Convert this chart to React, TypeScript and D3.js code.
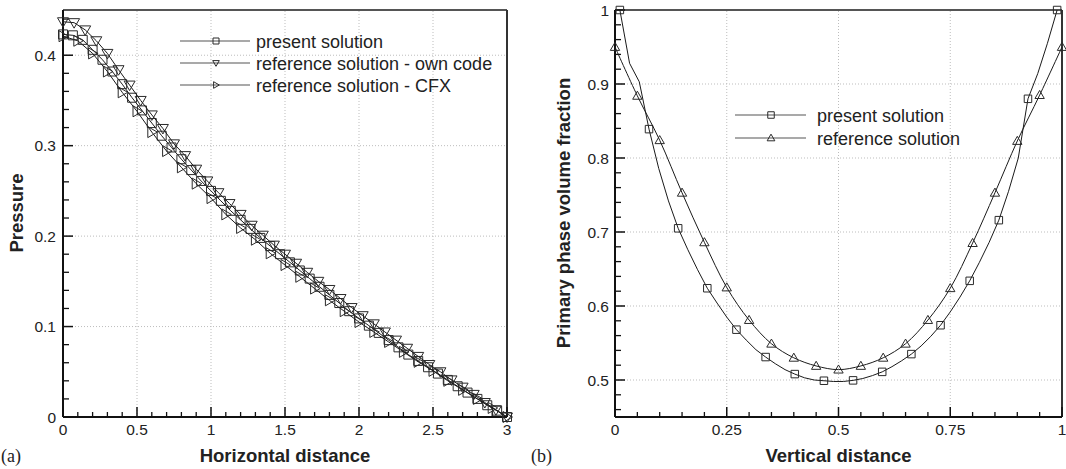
import React from "react";
import * as d3 from "d3";

// ---------- Panel (a) data ----------
const presentAX = [0, 0.0667, 0.1333, 0.2, 0.2667, 0.3333, 0.4, 0.4667, 0.5333, 0.6, 0.6667, 0.7333, 0.8, 0.8667, 0.9333, 1.0,
  1.0667, 1.1333, 1.2, 1.2667, 1.3333, 1.4, 1.4667, 1.5333, 1.6, 1.6667, 1.7333, 1.8, 1.8667, 1.9333, 2.0,
  2.0667, 2.1333, 2.2, 2.2667, 2.3333, 2.4, 2.4667, 2.5333, 2.6, 2.6667, 2.7333, 2.8, 2.8667, 2.9333, 3.0];
const presentAY = [0.423, 0.422, 0.417, 0.406, 0.395, 0.382, 0.368, 0.353, 0.339, 0.325, 0.311, 0.298, 0.285, 0.273, 0.261, 0.25,
  0.239, 0.228, 0.218, 0.208, 0.198, 0.189, 0.18, 0.171, 0.162, 0.153, 0.144, 0.135, 0.126, 0.117, 0.109,
  0.101, 0.093, 0.085, 0.077, 0.069, 0.062, 0.055, 0.048, 0.041, 0.034, 0.027, 0.02, 0.013, 0.007, 0.0];

const ownCodeX = [0, 0.075, 0.15, 0.225, 0.3, 0.375, 0.45, 0.525, 0.6, 0.675, 0.75, 0.825, 0.9, 0.975, 1.05, 1.125, 1.2, 1.275, 1.35, 1.425,
  1.5, 1.575, 1.65, 1.725, 1.8, 1.875, 1.95, 2.025, 2.1, 2.175, 2.25, 2.325, 2.4, 2.475, 2.55, 2.625, 2.7, 2.775, 2.85, 2.925, 3.0];
const ownCodeY = [0.437, 0.436, 0.428, 0.416, 0.402, 0.384, 0.367, 0.35, 0.334, 0.319, 0.302, 0.289, 0.274, 0.261, 0.248, 0.236, 0.224, 0.212, 0.201, 0.19,
  0.18, 0.17, 0.16, 0.15, 0.141, 0.131, 0.121, 0.112, 0.103, 0.094, 0.085, 0.076, 0.067, 0.058, 0.05, 0.041, 0.033, 0.025, 0.016, 0.008, 0.0];

const cfxX = [0, 0.1, 0.2, 0.3, 0.4, 0.5, 0.6, 0.7, 0.8, 0.9, 1.0, 1.1, 1.2, 1.3, 1.4, 1.5, 1.6, 1.7, 1.8, 1.9, 2.0,
  2.1, 2.2, 2.3, 2.4, 2.5, 2.6, 2.7, 2.8, 2.9, 3.0];
const cfxY = [0.421, 0.416, 0.402, 0.382, 0.359, 0.338, 0.315, 0.294, 0.276, 0.258, 0.242, 0.224, 0.209, 0.196, 0.181, 0.168, 0.155, 0.142, 0.129, 0.117, 0.105,
  0.094, 0.083, 0.072, 0.061, 0.051, 0.04, 0.03, 0.02, 0.01, 0.0];

const aXTicks = [0, 0.5, 1, 1.5, 2, 2.5, 3];
const aXTickLabels = ["0", "0.5", "1", "1.5", "2", "2.5", "3"];
const aYTicks = [0, 0.1, 0.2, 0.3, 0.4];
const aYTickLabels = ["0", "0.1", "0.2", "0.3", "0.4"];
const aLegend = ["present solution", "reference solution - own code", "reference solution - CFX"];

// ---------- Panel (b) data ----------
const presentBX = [0.0109, 0.0326, 0.0543, 0.0761, 0.0978, 0.1196, 0.1413, 0.163, 0.1848, 0.2065, 0.2283, 0.25, 0.2717, 0.2935, 0.3152, 0.337,
  0.3587, 0.3804, 0.4022, 0.4239, 0.4457, 0.4674, 0.4891, 0.5109, 0.5326, 0.5543, 0.5761, 0.5978, 0.6196, 0.6413, 0.663,
  0.6848, 0.7065, 0.7283, 0.75, 0.7717, 0.7935, 0.8152, 0.837, 0.8587, 0.8804, 0.9022, 0.9239, 0.9457, 0.9674, 0.9891];
const presentBY = [1.0, 0.928, 0.903, 0.839, 0.786, 0.742, 0.705, 0.676, 0.649, 0.624, 0.604, 0.585, 0.568, 0.554, 0.541, 0.531,
  0.522, 0.514, 0.508, 0.503, 0.5, 0.499, 0.498, 0.498, 0.4995, 0.502, 0.506, 0.511, 0.518, 0.526, 0.535,
  0.546, 0.559, 0.574, 0.592, 0.612, 0.634, 0.659, 0.686, 0.716, 0.755, 0.8, 0.88, 0.914, 0.955, 1.0];
const presentBMarkerEvery = 3;

const referenceBX = [0, 0.05, 0.1, 0.15, 0.2, 0.25, 0.3, 0.35, 0.4, 0.45, 0.5, 0.55, 0.6, 0.65, 0.7, 0.75, 0.8, 0.85, 0.9, 0.95, 1.0];
const referenceBY = [0.95, 0.884, 0.824, 0.753, 0.686, 0.625, 0.581, 0.549, 0.53, 0.519, 0.514, 0.519, 0.53, 0.549, 0.581, 0.624, 0.685, 0.753, 0.823, 0.885, 0.95];

const bXTicks = [0, 0.25, 0.5, 0.75, 1];
const bXTickLabels = ["0", "0.25", "0.5", "0.75", "1"];
const bYTicks = [0.5, 0.6, 0.7, 0.8, 0.9, 1];
const bYTickLabels = ["0.5", "0.6", "0.7", "0.8", "0.9", "1"];
const bLegend = ["present solution", "reference solution"];

const SANS = "'Liberation Sans', Arial, Helvetica, sans-serif";
const SERIF = "'Liberation Serif', 'Times New Roman', serif";
const LINE = "#1a1a1a";
const MARK = "#2a2a2a";

type Shape = "square" | "down" | "right" | "up";

function Marker({ shape, cx, cy, s }: { shape: Shape; cx: number; cy: number; s: number }) {
  const h = s / 2;
  let d = "";
  if (shape === "square") d = `M${cx - h},${cy - h}h${s}v${s}h${-s}Z`;
  else if (shape === "down") d = `M${cx - h * 1.1},${cy - h * 0.8}L${cx + h * 1.1},${cy - h * 0.8}L${cx},${cy + h * 1.1}Z`;
  else if (shape === "up") d = `M${cx - h * 1.1},${cy + h * 0.8}L${cx + h * 1.1},${cy + h * 0.8}L${cx},${cy - h * 1.1}Z`;
  else d = `M${cx - h * 0.8},${cy - h * 1.1}L${cx - h * 0.8},${cy + h * 1.1}L${cx + h * 1.1},${cy}Z`;
  return <path d={d} fill="none" stroke={MARK} strokeWidth={1} />;
}

interface AxisProps {
  x: d3.ScaleLinear<number, number>;
  y: d3.ScaleLinear<number, number>;
  xTicks: number[];
  xLabels: string[];
  yTicks: number[];
  yLabels: string[];
  xMinor: number[];
  yMinor: number[];
  yLabelGap: number;
}

function Frame({ x, y, xTicks, xLabels, yTicks, yLabels, xMinor, yMinor, yLabelGap }: AxisProps) {
  const [x0, x1] = x.range();
  const [y0, y1] = y.range();
  return (
    <g>
      {xTicks.filter((t) => x(t) > x0 + 1 && x(t) < x1 - 1).map((t, i) => (
        <line key={"gx" + i} x1={x(t)} x2={x(t)} y1={y0} y2={y1} stroke="#bdbdbd" strokeWidth={1} strokeDasharray="1,2" />
      ))}
      {yTicks.filter((t) => y(t) < y0 - 1 && y(t) > y1 + 1).map((t, i) => (
        <line key={"gy" + i} x1={x0} x2={x1} y1={y(t)} y2={y(t)} stroke="#bdbdbd" strokeWidth={1} strokeDasharray="1,2" />
      ))}
      <line x1={x0} x2={x1} y1={y1} y2={y1} stroke="#555" strokeWidth={2} />
      <line x1={x1} x2={x1} y1={y1} y2={y0} stroke="#333" strokeWidth={2} />
      <line x1={x0} x2={x1} y1={y0} y2={y0} stroke="#111" strokeWidth={2} />
      <line x1={x0} x2={x0} y1={y1} y2={y0} stroke="#111" strokeWidth={2} />
      {xMinor.map((t, i) => (
        <line key={"mx" + i} x1={x(t)} x2={x(t)} y1={y0} y2={y0 - 5} stroke="#111" strokeWidth={1.3} />
      ))}
      {yMinor.map((t, i) => (
        <line key={"my" + i} x1={x0} x2={x0 + 6} y1={y(t)} y2={y(t)} stroke="#111" strokeWidth={1.3} />
      ))}
      {xTicks.map((t, i) => (
        <g key={"tx" + i}>
          <line x1={x(t)} x2={x(t)} y1={y0} y2={y0 - 10} stroke="#111" strokeWidth={1.5} />
          <text x={x(t)} y={y0 + 18} textAnchor="middle" fontFamily={SANS} fontSize={15.5} fill="#222">
            {xLabels[i]}
          </text>
        </g>
      ))}
      {yTicks.map((t, i) => (
        <g key={"ty" + i}>
          <line x1={x0} x2={x0 + 10} y1={y(t)} y2={y(t)} stroke="#111" strokeWidth={1.5} />
          <text x={x0 - yLabelGap} y={y(t) + 5.5} textAnchor="end" fontFamily={SANS} fontSize={15.5} fill="#222">
            {yLabels[i]}
          </text>
        </g>
      ))}
    </g>
  );
}

function Series({ xs, ys, x, y, shape, size, every = 1, curve }: {
  xs: number[]; ys: number[]; x: d3.ScaleLinear<number, number>; y: d3.ScaleLinear<number, number>;
  shape: Shape; size: number; every?: number; curve?: d3.CurveFactory;
}) {
  const pts: [number, number][] = xs.map((v, i) => [v, ys[i]]);
  const gen = d3.line<[number, number]>().x((p) => x(p[0])).y((p) => y(p[1])).curve(curve || d3.curveLinear);
  return (
    <g>
      <path d={gen(pts) || ""} fill="none" stroke={LINE} strokeWidth={1} />
      {pts.filter((_, i) => i % every === 0).map((p, i) => (
        <Marker key={i} shape={shape} cx={x(p[0])} cy={y(p[1])} s={size} />
      ))}
    </g>
  );
}

function LegendRow({ x1, x2, xm, y, label, shape, s, tx }: { x1: number; x2: number; xm: number; y: number; label: string; shape: Shape; s: number; tx: number }) {
  return (
    <g>
      <line x1={x1} x2={x2} y1={y} y2={y} stroke="#555" strokeWidth={1.2} />
      <Marker shape={shape} cx={xm} cy={y} s={s} />
      <text x={tx} y={y + 6.5} fontFamily={SANS} fontSize={18} fill="#222">{label}</text>
    </g>
  );
}

export default function App() {
  const W = 1066, H = 469;
  const xa = d3.scaleLinear().domain([0, 3]).range([63, 507]);
  const ya = d3.scaleLinear().domain([0, 0.45]).range([417, 10]);
  const xb = d3.scaleLinear().domain([0, 1]).range([615, 1062]);
  const yb = d3.scaleLinear().domain([0.45, 1]).range([417, 10]);

  const aXMinor = d3.range(0.1, 3, 0.1).filter((v) => Math.abs(v * 2 - Math.round(v * 2)) > 1e-6);
  const aYMinor = d3.range(0.02, 0.45, 0.02).filter((v) => Math.abs(v * 10 - Math.round(v * 10)) > 1e-6);
  const bXMinor = d3.range(0.05, 1, 0.05).filter((v) => Math.abs(v * 4 - Math.round(v * 4)) > 1e-6);
  const bYMinor = d3.range(0.46, 1, 0.02).filter((v) => Math.abs(v * 10 - Math.round(v * 10)) > 1e-6);

  return (
    <svg width={W} height={H} style={{ position: "absolute", left: 0, top: 0, background: "#fff" }}>
      <rect width={W} height={H} fill="#fff" />
      {/* Panel (a) */}
      <Frame x={xa} y={ya} xTicks={aXTicks} xLabels={aXTickLabels} yTicks={aYTicks} yLabels={aYTickLabels} xMinor={aXMinor} yMinor={aYMinor} yLabelGap={7} />
      <Series xs={presentAX} ys={presentAY} x={xa} y={ya} shape="square" size={9} />
      <Series xs={ownCodeX} ys={ownCodeY} x={xa} y={ya} shape="down" size={10} />
      <Series xs={cfxX} ys={cfxY} x={xa} y={ya} shape="right" size={10} />
      <LegendRow x1={180} x2={250} xm={216} y={41} tx={256} label={aLegend[0]} shape="square" s={6} />
      <LegendRow x1={180} x2={250} xm={216} y={63} tx={256} label={aLegend[1]} shape="down" s={6} />
      <LegendRow x1={180} x2={250} xm={216} y={85} tx={256} label={aLegend[2]} shape="right" s={6} />
      <text transform="translate(23,213) rotate(-90)" textAnchor="middle" fontFamily={SANS} fontWeight="bold" fontSize={18.5} fill="#222">Pressure</text>
      <text x={(xa.range()[0] + xa.range()[1]) / 2} y={462} textAnchor="middle" fontFamily={SANS} fontWeight="bold" fontSize={18.5} fill="#222">Horizontal distance</text>
      <text x={1} y={462} fontFamily={SERIF} fontSize={18} fill="#222">(a)</text>

      {/* Panel (b) */}
      <Frame x={xb} y={yb} xTicks={bXTicks} xLabels={bXTickLabels} yTicks={bYTicks} yLabels={bYTickLabels} xMinor={bXMinor} yMinor={bYMinor} yLabelGap={6} />
      <Series xs={presentBX} ys={presentBY} x={xb} y={yb} shape="square" size={7.5} every={presentBMarkerEvery} />
      <Series xs={referenceBX} ys={referenceBY} x={xb} y={yb} shape="up" size={8.5} curve={d3.curveCatmullRom} />
      <LegendRow x1={735} x2={806} xm={771} y={115} tx={817} label={bLegend[0]} shape="square" s={6.5} />
      <LegendRow x1={735} x2={806} xm={771} y={138} tx={817} label={bLegend[1]} shape="up" s={7} />
      <text transform="translate(570,213) rotate(-90)" textAnchor="middle" fontFamily={SANS} fontWeight="bold" fontSize={18.5} fill="#222">Primary phase volume fraction</text>
      <text x={(xb.range()[0] + xb.range()[1]) / 2} y={462} textAnchor="middle" fontFamily={SANS} fontWeight="bold" fontSize={18.5} fill="#222">Vertical distance</text>
      <text x={531} y={462} fontFamily={SERIF} fontSize={18} fill="#222">(b)</text>
    </svg>
  );
}
